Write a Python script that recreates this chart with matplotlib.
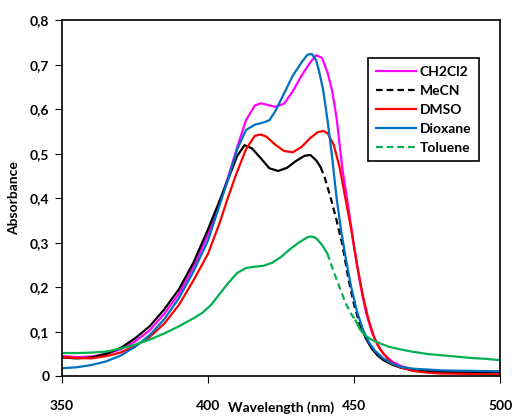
import matplotlib
matplotlib.use("Agg")
import matplotlib.pyplot as plt
from matplotlib.ticker import FuncFormatter

plt.rcParams['font.family'] = ['Lato', 'DejaVu Sans']
plt.rcParams['font.weight'] = 'bold'

# CH2Cl2 (magenta)
ch2cl2_wl = [350, 355, 360, 365, 370, 375, 380, 385, 390, 395, 400, 404, 407, 410, 413, 416, 418, 420, 423,
             426, 429, 432, 435, 437, 439, 441, 442.5, 444, 446, 448, 450, 452, 454, 456, 458, 460, 463, 466,
             470, 475, 480, 490, 500]
ch2cl2_abs = [0.045, 0.043, 0.044, 0.050, 0.060, 0.078, 0.103, 0.140, 0.185, 0.245, 0.318, 0.390, 0.450, 0.515,
              0.575, 0.608, 0.613, 0.610, 0.605, 0.612, 0.640, 0.675, 0.705, 0.721, 0.715, 0.680, 0.640, 0.580,
              0.465, 0.380, 0.290, 0.210, 0.145, 0.100, 0.070, 0.050, 0.033, 0.023, 0.015, 0.012, 0.010, 0.009,
              0.009]

# MeCN (black) - solid / dashed / solid parts
mecn_wl = [350, 355, 360, 365, 370, 375, 380, 385, 390, 395, 400, 404, 407, 410, 412.5, 415, 418, 421, 424, 427,
           430, 433, 435, 437, 438.5, 440, 442, 444, 446, 448, 450, 452, 454, 456, 458, 460, 463, 466, 470, 475,
           480, 490, 500]
mecn_abs = [0.042, 0.040, 0.042, 0.050, 0.063, 0.085, 0.112, 0.150, 0.195, 0.255, 0.330, 0.395, 0.445, 0.495,
            0.519, 0.512, 0.490, 0.467, 0.461, 0.468, 0.483, 0.495, 0.497, 0.485, 0.470, 0.445, 0.400, 0.350,
            0.295, 0.220, 0.160, 0.115, 0.085, 0.062, 0.047, 0.036, 0.026, 0.019, 0.014, 0.011, 0.010, 0.009,
            0.009]
mecn_dash = (24, 31)  # index range drawn dashed

# DMSO (red)
dmso_wl = [350, 355, 360, 365, 370, 375, 380, 385, 390, 395, 400, 404, 407, 410, 413, 416, 418, 420, 423, 426,
           429, 432, 435, 437.5, 439.5, 441, 443, 445, 447, 449, 451, 453, 455, 457, 459, 462, 465, 470, 475,
           480, 490, 500]
dmso_abs = [0.043, 0.041, 0.040, 0.045, 0.053, 0.068, 0.088, 0.118, 0.160, 0.215, 0.275, 0.345, 0.405, 0.460,
            0.510, 0.540, 0.543, 0.538, 0.520, 0.506, 0.503, 0.515, 0.535, 0.548, 0.551, 0.545, 0.520, 0.470,
            0.400, 0.330, 0.250, 0.180, 0.125, 0.085, 0.060, 0.035, 0.022, 0.012, 0.008, 0.006, 0.005, 0.004]

# Dioxane (blue)
diox_wl = [350, 355, 360, 365, 370, 375, 380, 385, 390, 395, 400, 404, 407, 410, 413, 416, 419, 421, 423, 426,
           429, 432, 434, 435.5, 437, 438, 439.4, 441, 442.5, 444, 445.5, 447, 449, 451, 453, 455, 457, 460, 463,
           466, 470, 475, 480, 490, 500]
diox_abs = [0.018, 0.020, 0.025, 0.033, 0.046, 0.066, 0.092, 0.128, 0.175, 0.235, 0.305, 0.385, 0.445, 0.510,
            0.553, 0.565, 0.570, 0.575, 0.595, 0.635, 0.675, 0.705, 0.722, 0.724, 0.710, 0.685, 0.643, 0.570,
            0.490, 0.400, 0.330, 0.270, 0.200, 0.145, 0.105, 0.077, 0.058, 0.040, 0.028, 0.021, 0.017, 0.015,
            0.013, 0.012, 0.011]

# Toluene (green)
tol_wl = [350, 355, 360, 365, 370, 375, 380, 385, 390, 395, 398, 401, 404, 407, 410, 413, 416, 419, 422, 425,
          428, 431, 434, 435.5, 437, 439, 440.8, 443, 445, 447, 449, 450.5, 452, 454, 456, 458, 462, 466, 470,
          475, 480, 485, 490, 495, 500]
tol_abs = [0.052, 0.052, 0.053, 0.055, 0.062, 0.071, 0.082, 0.096, 0.112, 0.130, 0.142, 0.160, 0.185, 0.210,
           0.232, 0.243, 0.246, 0.248, 0.255, 0.268, 0.285, 0.300, 0.312, 0.314, 0.310, 0.295, 0.276, 0.235,
           0.200, 0.165, 0.140, 0.125, 0.105, 0.090, 0.082, 0.076, 0.066, 0.060, 0.055, 0.050, 0.047, 0.044,
           0.041, 0.039, 0.036]
tol_dash = (26, 31)

x_ticks = [350, 400, 450, 500]
y_ticks = [0, 0.1, 0.2, 0.3, 0.4, 0.5, 0.6, 0.7, 0.8]


def plot_split(ax, wl, ab, dash, color, lw):
    a, b = dash
    ax.plot(wl[:a + 1], ab[:a + 1], color=color, lw=lw)
    ax.plot(wl[a:b + 1], ab[a:b + 1], color=color, lw=lw, ls=(0, (3, 1.8)))
    ax.plot(wl[b:], ab[b:], color=color, lw=lw)


fig = plt.figure(figsize=(5.12, 4.18), dpi=100)
ax = fig.add_axes([0.121, 0.100, 0.856, 0.852])
lw = 1.6

ax.plot(ch2cl2_wl, ch2cl2_abs, color='#FF00FF', lw=lw)
plot_split(ax, mecn_wl, mecn_abs, mecn_dash, 'black', lw)
ax.plot(dmso_wl, dmso_abs, color='#FF0000', lw=lw)
ax.plot(diox_wl, diox_abs, color='#0070C0', lw=lw)
plot_split(ax, tol_wl, tol_abs, tol_dash, '#00B050', lw)

# legend handles
h = [plt.Line2D([], [], color='#FF00FF', lw=lw),
     plt.Line2D([], [], color='black', lw=lw, ls=(0, (3, 1.8))),
     plt.Line2D([], [], color='#FF0000', lw=lw),
     plt.Line2D([], [], color='#0070C0', lw=lw),
     plt.Line2D([], [], color='#00B050', lw=lw, ls=(0, (3, 1.8)))]
leg = ax.legend(h, ['CH2Cl2', 'MeCN', 'DMSO', 'Dioxane', 'Toluene'], loc='upper left',
                bbox_to_anchor=(0.683, 0.912), fancybox=False, framealpha=1, edgecolor='black',
                fontsize=10, handlelength=2.9, handletextpad=0.25, labelspacing=0.5, borderpad=0.55)
leg.get_frame().set_linewidth(1.2)

ax.set_xlim(350, 500)
ax.set_ylim(0, 0.8)
ax.set_xticks(x_ticks)
ax.set_yticks(y_ticks)
ax.yaxis.set_major_formatter(FuncFormatter(lambda v, p: '0' if v == 0 else f'{v:.1f}'.replace('.', ',')))
ax.tick_params(axis='x', direction='out', length=5, pad=12, labelsize=10)
ax.tick_params(axis='y', direction='out', length=5, pad=4, labelsize=10)
for s in ax.spines.values():
    s.set_linewidth(1.2)

ax.set_xlabel('Wavelength (nm)', fontsize=10, fontweight='bold')
ax.xaxis.set_label_coords(0.5, -0.07)
ax.set_ylabel('Absorbance', fontsize=10, fontweight='bold')
ax.yaxis.set_label_coords(-0.095, 0.5)

fig.savefig('out.png', dpi=100)
